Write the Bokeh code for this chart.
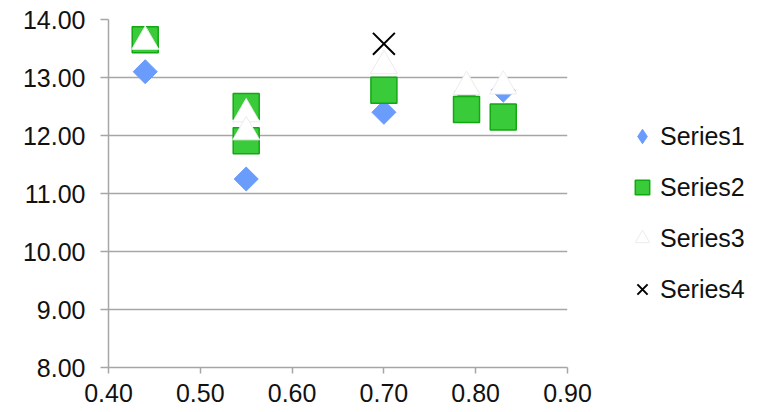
import math
from bokeh.plotting import figure
from bokeh.models import (Legend, LegendItem, FixedTicker, NumeralTickFormatter,
                          Range1d, ColumnDataSource)
from bokeh.embed import file_html
from bokeh.resources import INLINE

# ---- data ----
s1_x = [0.44, 0.55, 0.70, 0.79, 0.83]
s1_y = [13.10, 11.25, 12.40, 12.75, 12.78]

s2_x = [0.44, 0.55, 0.55, 0.70, 0.79, 0.83]
s2_y = [13.65, 12.50, 11.91, 12.78, 12.45, 12.32]

s3_x = [0.44, 0.55, 0.55, 0.70, 0.79, 0.83]
s3_y = [13.62, 12.37, 12.06, 13.20, 12.84, 12.85]

s4_x = [0.70]
s4_y = [13.58]

series_names = ["Series1", "Series2", "Series3", "Series4"]
x_ticks = [0.40, 0.50, 0.60, 0.70, 0.80, 0.90]
y_ticks = [8.0, 9.0, 10.0, 11.0, 12.0, 13.0, 14.0]

FONT = "Liberation Sans"
GRID = "#a6a6a6"
BLUE = "#6a9cfb"

p = figure(frame_width=459, frame_height=348, output_backend="svg", toolbar_location=None,
           x_range=Range1d(0.40, 0.90), y_range=Range1d(8.0, 14.0),
           min_border_left=108, min_border_right=10, min_border_top=19,
           min_border_bottom=45)
p.outline_line_color = None
p.background_fill_color = "white"
p.border_fill_color = "white"

p.xgrid.grid_line_color = None
p.ygrid.grid_line_color = GRID
p.ygrid.grid_line_width = 1.5
p.ygrid.ticker = FixedTicker(ticks=y_ticks)

for ax in (p.xaxis[0], p.yaxis[0]):
    ax.axis_line_color = GRID
    ax.axis_line_width = 1.5
    ax.major_tick_line_color = GRID
    ax.major_tick_line_width = 1.5
    ax.minor_tick_line_color = None
    ax.major_tick_in = 0
    ax.major_label_text_font = FONT
    ax.major_label_text_font_size = "25px"
    ax.major_label_text_color = "#111111"
    ax.formatter = NumeralTickFormatter(format="0.00")

p.xaxis[0].ticker = FixedTicker(ticks=x_ticks)
p.yaxis[0].ticker = FixedTicker(ticks=y_ticks)
p.xaxis[0].major_tick_out = 6
p.xaxis[0].major_label_standoff = 10
p.yaxis[0].major_tick_out = 8
p.yaxis[0].major_label_standoff = 15

src1 = ColumnDataSource(dict(x=s1_x, y=s1_y))
# diamond swatch used by the legend; drawn first, fully covered by the rotated squares
r1_key = p.scatter(x="x", y="y", source=src1, marker="diamond", size=17,
                   fill_color=BLUE, line_color=BLUE)
r1 = p.scatter(x="x", y="y", source=src1, marker="square", size=17, angle=math.pi / 4,
               fill_color=BLUE, line_color=BLUE, line_width=1)
r2 = p.scatter(s2_x, s2_y, marker="square", size=26,
               fill_color="#3acb3a", line_color="#12a812", line_width=1.5)
r3 = p.scatter(s3_x, s3_y, marker="triangle", size=27,
               fill_color="white", line_color="#ececec", line_width=1)
r4 = p.scatter(s4_x, s4_y, marker="x", size=31,
               line_color="black", line_width=2)

legend = Legend(items=[LegendItem(label=n, renderers=[r]) for n, r in
                       zip(series_names, [r1_key, r2, r3, r4])],
                location=(57, 58), orientation="vertical",
                glyph_width=36, glyph_height=40, label_height=29,
                label_standoff=0, spacing=11, padding=0, margin=0,
                border_line_color=None, background_fill_alpha=0,
                label_text_font=FONT, label_text_font_size="25px",
                label_text_color="#111111")
p.add_layout(legend, "right")

open("out.html", "w").write(file_html(p, INLINE))
